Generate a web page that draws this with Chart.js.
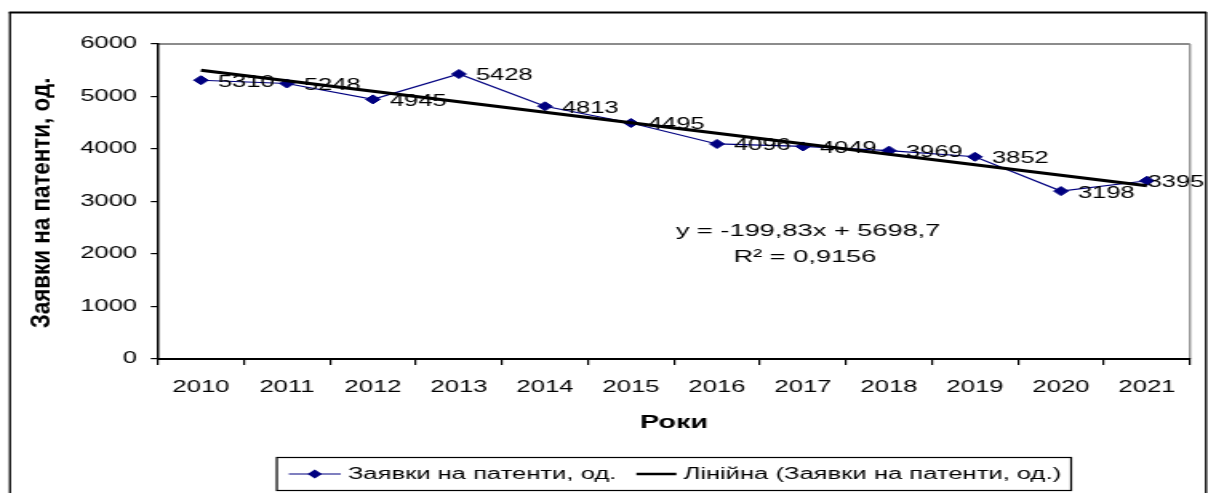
<!DOCTYPE html>
<html><head><meta charset="utf-8">
<script src="https://cdn.jsdelivr.net/npm/chart.js@4.4.1/dist/chart.umd.min.js"></script>
<style>
html,body{margin:0;padding:0;background:#fff;overflow:hidden}
#wrap{width:755px;height:493px;transform:scaleX(1.6);transform-origin:0 0}
#c{display:block}
</style></head>
<body>
<div id="wrap"><canvas id="c" width="755" height="493"></canvas></div>
<script>
// ---- data ----
const years = ['2010','2011','2012','2013','2014','2015','2016','2017','2018','2019','2020','2021'];
const applications = [5310,5248,4945,5428,4813,4495,4096,4049,3969,3852,3198,3395];
// linear trend line endpoints (from the shown equation y = -199,83x + 5698,7)
const trendValues = [5498.9,null,null,null,null,null,null,null,null,null,null,3300.7];
const yTicks = [0,1000,2000,3000,4000,5000,6000];
const seriesLabel = 'Заявки на патенти, од.';
const trendLabel = 'Лінійна (Заявки на патенти, од.)';
const yTitle = 'Заявки на патенти, од.';
const xTitle = 'Роки';
const equationLines = ['y = -199,83x + 5698,7', 'R² = 0,9156'];

// ---- layout (the reference image is stretched horizontally) ----
const S = 1.6;
const W = 1208 / S;
const FONT = "'Liberation Sans', Arial, sans-serif";
const NAVY = '#000080';
const FRAME_RIGHT = 1206 / S;

const decor = {
  id: 'decor',
  beforeDraw(chart) {
    const ctx = chart.ctx;
    ctx.save();
    ctx.fillStyle = '#fff';
    ctx.fillRect(0, 0, chart.width, chart.height);
    ctx.strokeStyle = '#000';
    ctx.lineWidth = 2;
    ctx.beginPath(); ctx.moveTo(9 / S, 12.5); ctx.lineTo(1206.5 / S, 12.5); ctx.stroke();
    ctx.lineWidth = 1.3;
    ctx.beginPath(); ctx.moveTo(10 / S, 12); ctx.lineTo(10 / S, 500); ctx.stroke();
    ctx.beginPath(); ctx.moveTo(FRAME_RIGHT, 12); ctx.lineTo(FRAME_RIGHT, 500); ctx.stroke();
    const a = chart.chartArea;
    ctx.strokeStyle = '#8c8c8c';
    ctx.lineWidth = 2;
    ctx.beginPath(); ctx.moveTo(a.left, a.top); ctx.lineTo(a.right, a.top); ctx.stroke();
    ctx.lineWidth = 1.3;
    ctx.beginPath(); ctx.moveTo(a.right, a.top); ctx.lineTo(a.right, a.bottom); ctx.stroke();
    ctx.restore();
  },
  afterDatasetDraw(chart, args) {
    if (args.index !== 0) return;
    const ctx = chart.ctx;
    ctx.save();
    ctx.font = '16px ' + FONT;
    ctx.fillStyle = '#000';
    ctx.textAlign = 'left';
    ctx.textBaseline = 'middle';
    args.meta.data.forEach((pt, i) => {
      const t = String(applications[i]);
      const w = ctx.measureText(t).width;
      const x = Math.min(pt.x + 10.5, FRAME_RIGHT - 1 - w);
      ctx.fillText(t, x, pt.y + 2);
    });
    ctx.restore();
  },
  afterDraw(chart) {
    const ctx = chart.ctx;
    const a = chart.chartArea;
    ctx.save();
    // y axis title (rotated)
    ctx.save();
    ctx.translate(43 / S, 203);
    ctx.rotate(-Math.PI / 2);
    ctx.scale(1.4, 1);
    ctx.font = 'bold 16px ' + FONT;
    ctx.fillStyle = '#000';
    ctx.textAlign = 'center';
    ctx.textBaseline = 'middle';
    ctx.fillText(yTitle, 0, 0);
    ctx.restore();
    // equation
    ctx.font = '17px ' + FONT;
    ctx.fillStyle = '#000';
    ctx.textAlign = 'center';
    ctx.textBaseline = 'middle';
    const ex = a.left + 0.63 * (a.right - a.left);
    ctx.fillText(equationLines[0], ex, 231);
    ctx.fillText(equationLines[1], ex - 2, 257);
    // legend
    ctx.font = '16px ' + FONT;
    const pad = 12 / S, line1 = 52 / S, line2 = 40 / S, gapT = 7 / S, gapI = 20 / S, padR = 10 / S;
    const w1 = ctx.measureText(seriesLabel).width;
    const w2 = ctx.measureText(trendLabel).width;
    const bw = pad + line1 + gapT + w1 + gapI + line2 + gapT + w2 + padR;
    const cx = (a.left + a.right) / 2;
    const bx = cx - bw / 2, by = 457.5, bh = 33;
    ctx.strokeStyle = '#000';
    ctx.lineWidth = 1.2;
    ctx.strokeRect(bx, by, bw, bh);
    const cy = by + bh / 2;
    let x = bx + pad;
    ctx.strokeStyle = NAVY; ctx.lineWidth = 1.2;
    ctx.beginPath(); ctx.moveTo(x, cy); ctx.lineTo(x + line1, cy); ctx.stroke();
    const mx = x + line1 / 2, r = 4.5;
    ctx.fillStyle = NAVY;
    ctx.beginPath(); ctx.moveTo(mx, cy - r); ctx.lineTo(mx + r, cy); ctx.lineTo(mx, cy + r); ctx.lineTo(mx - r, cy); ctx.closePath(); ctx.fill();
    x += line1 + gapT;
    ctx.fillStyle = '#000';
    ctx.textAlign = 'left';
    ctx.fillText(seriesLabel, x, cy + 1);
    x += w1 + gapI;
    ctx.strokeStyle = '#000'; ctx.lineWidth = 2.5;
    ctx.beginPath(); ctx.moveTo(x, cy); ctx.lineTo(x + line2, cy); ctx.stroke();
    x += line2 + gapT;
    ctx.fillText(trendLabel, x, cy + 1);
    ctx.restore();
  }
};

new Chart(document.getElementById('c'), {
  type: 'line',
  data: {
    labels: years,
    datasets: [
      {
        label: seriesLabel,
        data: applications,
        order: 1,
        borderColor: NAVY,
        backgroundColor: NAVY,
        borderWidth: 1.2,
        pointStyle: 'rectRot',
        pointRadius: 4.5,
        pointBorderWidth: 1,
        pointBackgroundColor: NAVY,
        pointBorderColor: NAVY,
        tension: 0,
        fill: false
      },
      {
        label: trendLabel,
        data: trendValues,
        order: 0,
        borderColor: '#000',
        borderWidth: 3,
        pointRadius: 0,
        spanGaps: true,
        tension: 0,
        fill: false
      }
    ]
  },
  options: {
    responsive: false,
    animation: false,
    devicePixelRatio: 1,
    layout: { padding: { left: 0, right: W - 1190 / S, top: 44, bottom: 0 } },
    plugins: { legend: { display: false }, tooltip: { enabled: false } },
    scales: {
      x: {
        offset: true,
        grid: { offset: true, drawOnChartArea: false, drawTicks: true, tickLength: 6, tickColor: '#000', lineWidth: 1.2 },
        border: { color: '#000', width: 2 },
        ticks: { color: '#000', font: { family: FONT, size: 16 }, padding: 13, maxRotation: 0, autoSkip: false },
        title: { display: true, text: xTitle, color: '#000', font: { family: FONT, size: 18, weight: 'bold' }, padding: { top: 0, bottom: 59 } },
        afterFit(s) { s.height = 493 - 359; }
      },
      y: {
        min: 0, max: 6000,
        afterBuildTicks(s) { s.ticks = yTicks.map(v => ({ value: v })); },
        grid: { drawOnChartArea: false, drawTicks: true, tickLength: 4.5, tickColor: '#000', lineWidth: 1.2 },
        border: { color: '#000', width: 1.5 },
        ticks: { color: '#000', font: { family: FONT, size: 16 }, padding: 8.5, callback: v => String(v) },
        title: { display: false, text: yTitle },
        afterFit(s) { s.width = 158 / S; }
      }
    }
  },
  plugins: [decor]
});
</script>
</body></html>
